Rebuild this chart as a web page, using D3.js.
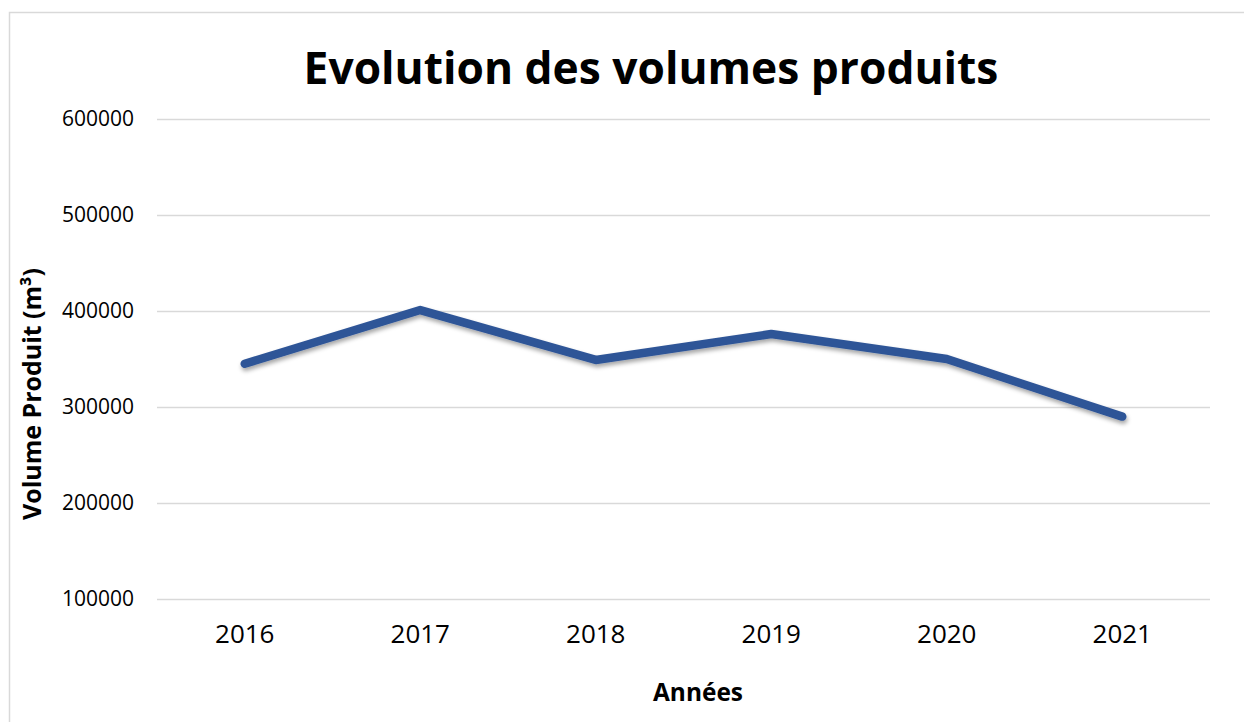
<!DOCTYPE html>
<html>
<head>
<meta charset="utf-8">
<script src="https://cdn.jsdelivr.net/npm/d3@7"></script>
<style>
  body { margin: 0; background: #fff; }
  text { font-family: "Open Sans", "Noto Sans", sans-serif; fill: #000; }
</style>
</head>
<body>
<svg id="chart" width="1244" height="722"></svg>
<script>
(function() {

  var years = ['2016', '2017', '2018', '2019', '2020', '2021'];
  var volumes = [345000, 401000, 349000, 376000, 350000, 290000];
  var yTicks = [100000, 200000, 300000, 400000, 500000, 600000];

  var width = 1244, height = 722;
  var plotLeft = 157, plotRight = 1210, plotTop = 119, plotBottom = 599;

  var svg = d3.select('#chart');

  // shrink or grow a text until it has the wanted width
  function fitWidth(sel, target) {
    var w = sel.node().getComputedTextLength();
    var size = parseFloat(sel.attr('font-size'));
    sel.attr('font-size', size * target / w);
  }

  var defs = svg.append('defs');
  var shadow = defs.append('filter')
      .attr('id', 'shadow')
      .attr('x', '-10%').attr('y', '-30%')
      .attr('width', '120%').attr('height', '160%');
  shadow.append('feDropShadow')
      .attr('dx', 1).attr('dy', 3)
      .attr('stdDeviation', 2)
      .attr('flood-color', '#000')
      .attr('flood-opacity', 0.35);

  svg.append('rect')
      .attr('width', width).attr('height', height)
      .attr('fill', '#fff');

  // chart area frame
  svg.append('rect')
      .attr('x', 9.5).attr('y', 12.5)
      .attr('width', 1260).attr('height', 740)
      .attr('fill', 'none')
      .attr('stroke', '#d9d9d9')
      .attr('stroke-width', 1.5);

  var x = d3.scaleBand()
      .domain(years)
      .range([plotLeft, plotRight]);

  var y = d3.scaleLinear()
      .domain([100000, 600000])
      .range([plotBottom, plotTop]);

  var yAxis = d3.axisLeft(y)
      .tickValues(yTicks)
      .tickSize(-(plotRight - plotLeft))
      .tickPadding(23)
      .tickFormat(d3.format('d'));

  var gy = svg.append('g')
      .attr('transform', 'translate(' + plotLeft + ',0)')
      .call(yAxis);
  gy.select('.domain').remove();
  gy.selectAll('.tick line')
      .attr('stroke', '#d9d9d9')
      .attr('stroke-width', 1.5);
  gy.selectAll('.tick text')
      .attr('font-family', '"Open Sans", sans-serif')
      .attr('font-size', 21)
      .attr('fill', '#000');

  var xAxis = d3.axisBottom(x)
      .tickSize(0)
      .tickPadding(26);

  var gx = svg.append('g')
      .attr('transform', 'translate(0,' + plotBottom + ')')
      .call(xAxis);
  gx.select('.domain').remove();
  gx.selectAll('.tick text')
      .attr('font-family', '"Open Sans", sans-serif')
      .attr('font-size', 26)
      .attr('fill', '#000');

  var line = d3.line()
      .x(function(d, i) { return x(years[i]) + x.bandwidth() / 2; })
      .y(function(d) { return y(d); });

  svg.append('path')
      .datum(volumes)
      .attr('d', line)
      .attr('fill', 'none')
      .attr('stroke', '#2F5597')
      .attr('stroke-width', 8.5)
      .attr('stroke-linecap', 'round')
      .attr('stroke-linejoin', 'round')
      .attr('filter', 'url(#shadow)');

  var title = svg.append('text')
      .attr('x', 651).attr('y', 84)
      .attr('text-anchor', 'middle')
      .attr('font-weight', 'bold')
      .attr('font-size', 44)
      .text('Evolution des volumes produits');
  fitWidth(title, 695);

  var xTitle = svg.append('text')
      .attr('x', 698).attr('y', 701)
      .attr('text-anchor', 'middle')
      .attr('font-weight', 'bold')
      .attr('font-size', 22)
      .text('Années');
  fitWidth(xTitle, 90);

  var yTitle = svg.append('text')
      .attr('transform', 'translate(41,394) rotate(-90)')
      .attr('text-anchor', 'middle')
      .attr('font-weight', 'bold')
      .attr('font-size', 22)
      .text('Volume Produit (m³)');
  fitWidth(yTitle, 252);

})();
</script>
</body>
</html>
